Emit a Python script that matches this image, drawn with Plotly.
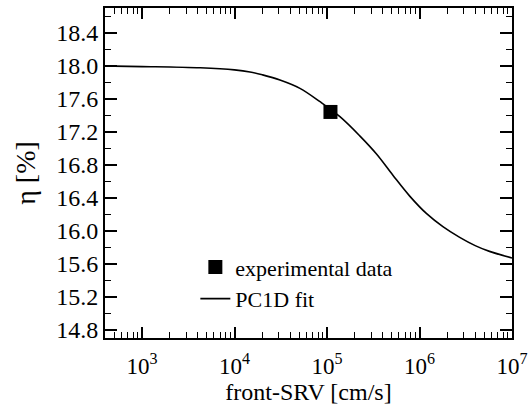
import plotly.graph_objects as go

# PC1D fit curve
fit_srv = [500, 1000, 4260, 10000, 14700, 20000, 31000, 51000, 84000, 138000, 226000,
           343000, 518000, 784000, 1186000, 1790000, 2720000, 4000000, 5710000, 10000000]
fit_eta = [17.995, 17.99, 17.975, 17.95, 17.925, 17.89, 17.827, 17.726, 17.564, 17.382, 17.15,
           16.93, 16.67, 16.42, 16.21, 16.05, 15.92, 15.82, 15.75, 15.67]

# measured point
exp_srv = [109000]
exp_eta = [17.44]

x_ticks = [1e3, 1e4, 1e5, 1e6, 1e7]
x_labels = ["10<sup>3</sup>", "10<sup>4</sup>", "10<sup>5</sup>", "10<sup>6</sup>", "10<sup>7</sup>"]
y_ticks = [14.8, 15.2, 15.6, 16.0, 16.4, 16.8, 17.2, 17.6, 18.0, 18.4]

font_family = "Liberation Serif"

fig = go.Figure()

fig.add_trace(go.Scatter(
    x=exp_srv, y=exp_eta,
    mode="markers",
    name="experimental data",
    marker=dict(symbol="square", size=14, color="black"),
))

fig.add_trace(go.Scatter(
    x=fit_srv, y=fit_eta,
    mode="lines",
    name="PC1D fit",
    line=dict(color="black", width=1.6, shape="spline", smoothing=1.0),
))

minor_x = [m * 10 ** k for k in range(2, 7) for m in range(2, 10)]

fig.update_layout(
    width=530,
    height=408,
    margin=dict(l=105, r=18, t=8, b=70),
    paper_bgcolor="white",
    plot_bgcolor="white",
    font=dict(family=font_family, size=22, color="black"),
    showlegend=True,
    legend=dict(
        x=0.222, y=0.278, xanchor="left", yanchor="top",
        bgcolor="rgba(0,0,0,0)",
        font=dict(family=font_family, size=22),
        itemsizing="trace",
        tracegroupgap=0,
    ),
    xaxis=dict(
        type="log",
        range=[2.6, 7],
        tickmode="array",
        tickvals=x_ticks,
        ticktext=x_labels,
        tickangle=0,
        ticklabelstandoff=6,
        showgrid=False,
        zeroline=False,
        showline=True,
        linecolor="black",
        linewidth=2,
        mirror="ticks",
        ticks="inside",
        ticklen=11,
        tickwidth=1.5,
        tickcolor="black",
        minor=dict(ticks="inside", ticklen=6, tickwidth=1.2, tickcolor="black",
                   tickvals=minor_x, showgrid=False),
        title=dict(text="front-SRV [cm/s]", font=dict(family=font_family, size=24), standoff=2),
        tickfont=dict(family=font_family, size=23),
        automargin=False,
    ),
    yaxis=dict(
        range=[14.7, 18.7],
        tickvals=y_ticks,
        ticktext=[f"{v:.1f}" for v in y_ticks],
        showgrid=False,
        zeroline=False,
        showline=True,
        linecolor="black",
        linewidth=2,
        mirror="ticks",
        ticks="inside",
        ticklen=12,
        tickwidth=1.5,
        tickcolor="black",
        minor=dict(ticks="inside", ticklen=6, tickwidth=1.2, tickcolor="black",
                   dtick=0.2, tick0=14.8, showgrid=False),
        title=dict(text="η [%]", font=dict(family=font_family, size=28), standoff=12),
        tickfont=dict(family=font_family, size=24),
        automargin=False,
    ),
)

# drop the page's default body margin so the figure fills the window exactly
fig.write_html(
    "out.html",
    config={"displayModeBar": False},
    post_script="document.body.style.margin='0';document.body.style.overflow='hidden';",
)
